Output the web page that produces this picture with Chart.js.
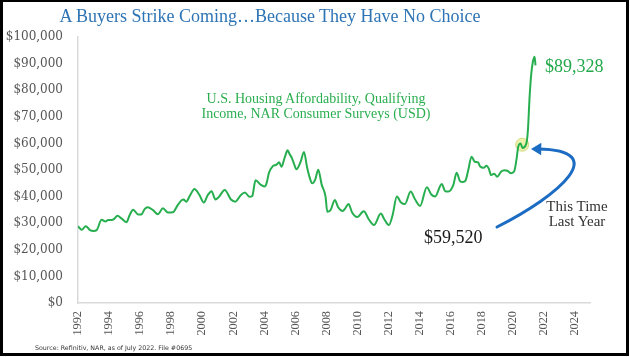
<!DOCTYPE html>
<html>
<head>
<meta charset="utf-8">
<script src="https://cdn.jsdelivr.net/npm/chart.js@4/dist/chart.umd.min.js"></script>
<style>
  html, body { margin: 0; padding: 0; background: #fff; }
  #wrap { position: relative; width: 630px; height: 357px; overflow: hidden; background: #fff; }
  #c { position: absolute; left: 0; top: 0; }
  .t { position: absolute; white-space: nowrap; }
  #frame { position: absolute; left: 0; top: -1px; width: 629px; height: 357px; border: 3px solid #000; box-sizing: border-box; pointer-events: none; }
</style>
</head>
<body>
<div id="wrap">
  <canvas id="c" width="630" height="357"></canvas>
  <div class="t" style="left:0;top:5.6px;width:540px;text-align:center;font:18px/20px 'Liberation Serif';color:#2E74B5;">A Buyers Strike Coming…Because They Have No Choice</div>
  <div class="t" style="left:166px;top:90.5px;width:300px;text-align:center;font:14px/15px 'Liberation Serif';color:#2BAE50;">U.S. Housing Affordability, Qualifying<br>Income, NAR Consumer Surveys (USD)</div>
  <div class="t" style="left:545px;top:55.6px;font:18px/20px 'Liberation Serif';color:#22A94B;">$89,328</div>
  <div class="t" style="left:527px;top:199.4px;width:100px;text-align:center;font:15px/14.5px 'Liberation Serif';color:#333;">This Time<br>Last Year</div>
  <div class="t" style="left:424px;top:227.2px;font:18px/20px 'Liberation Serif';color:#1a1a1a;">$59,520</div>
  <div class="t" style="left:35px;top:343.8px;font:6.3px/8px 'DejaVu Sans';color:#333;">Source: Refinitiv, NAR, as of July 2022. File #0695</div>
  <div id="frame"></div>
</div>
<script>
// ---- data ----
const years = [1992.00,1992.24,1992.50,1992.77,1993.00,1993.20,1993.52,1993.77,1993.94,1994.16,
  1994.33,1994.54,1994.80,1995.12,1995.33,1995.55,1995.87,1996.08,1996.29,1996.48,
  1996.83,1997.15,1997.47,1997.79,1998.11,1998.43,1998.69,1998.80,1998.97,1999.20,
  1999.50,1999.82,2000.10,2000.35,2000.60,2000.85,2001.06,2001.45,2001.85,2002.13,
  2002.49,2002.75,2003.05,2003.22,2003.43,2003.78,2004.00,2004.14,2004.30,2004.52,
  2004.78,2004.95,2005.10,2005.30,2005.50,2005.62,2005.75,2005.90,2006.06,2006.34,
  2006.55,2006.75,2006.90,2007.08,2007.28,2007.47,2007.69,2007.94,2008.05,2008.25,
  2008.54,2008.75,2009.05,2009.20,2009.42,2009.65,2009.98,2010.40,2010.75,2011.06,
  2011.50,2011.72,2012.02,2012.26,2012.53,2012.80,2013.05,2013.42,2013.70,2014.03,
  2014.46,2014.75,2014.99,2015.42,2015.65,2015.85,2016.17,2016.38,2016.60,2016.78,
  2016.95,2017.13,2017.34,2017.55,2017.75,2017.90,2018.12,2018.30,2018.45,2018.60,
  2018.80,2018.99,2019.25,2019.45,2019.65,2019.89,2020.08,2020.23,2020.35,2020.50,
  2020.62,2020.87,2020.97,2021.08,2021.19,2021.29,2021.40,2021.46];
const income = [28900,27500,28900,27400,27100,27400,31300,30600,31200,31200,
  31600,32800,31800,30400,33100,35100,33300,33300,35300,36000,
  34900,33400,35600,34000,34100,36900,38700,38900,38100,40300,
  42900,40600,37800,40500,42000,38900,39800,42500,38900,38100,
  40600,41500,39900,40200,46100,44400,43800,45000,49000,51300,
  52000,52900,51200,54500,57400,56000,54800,52500,50300,53200,
  56800,51000,47500,45000,46500,50100,44500,40000,34300,34800,
  38700,36000,34600,35500,37200,34000,32300,34500,31200,29300,
  33600,31500,29300,33100,40000,37800,37200,41900,39000,36500,
  43500,40800,40000,44700,42000,41900,44400,49000,45800,45500,
  46000,50000,55000,53100,52900,51300,50800,51600,50500,48100,
  48600,47500,49400,49900,49700,48800,49400,53800,58800,60000,
  58300,60000,65000,77600,86400,90700,92600,89300];
const markerYear = [2020.6];
const markerValue = [59520];
const xTickYears = [1992,1994,1996,1998,2000,2002,2004,2006,2008,2010,2012,2014,2016,2018,2020,2022,2024];
const yTickValues = [0,10000,20000,30000,40000,50000,60000,70000,80000,90000,100000];
// annotation arrow (data space): start, control1, control2, end
const arrowPts = [[2018.98,28570],[2023.04,40600],[2026.35,57500],[2021.62,57900]];

const lineData = years.map((x, i) => ({ x, y: income[i] }));
const markerData = markerYear.map((x, i) => ({ x, y: markerValue[i] }));

const arrowPlugin = {
  id: 'arrow',
  afterDraw(chart) {
    const { ctx, scales: { x, y } } = chart;
    const p = arrowPts.map(([a, b]) => [x.getPixelForValue(a), y.getPixelForValue(b)]);
    ctx.save();
    ctx.strokeStyle = '#1B6CC2';
    ctx.fillStyle = '#1B6CC2';
    ctx.lineWidth = 3;
    ctx.lineCap = 'round';
    ctx.beginPath();
    ctx.moveTo(p[0][0], p[0][1]);
    ctx.bezierCurveTo(p[1][0], p[1][1], p[2][0], p[2][1], p[3][0], p[3][1]);
    ctx.stroke();
    const ang = Math.atan2(p[3][1] - p[2][1], p[3][0] - p[2][0]);
    const tipX = p[3][0] + Math.cos(ang) * 7, tipY = p[3][1] + Math.sin(ang) * 7;
    ctx.beginPath();
    ctx.moveTo(tipX, tipY);
    ctx.lineTo(tipX - Math.cos(ang - 0.55) * 12, tipY - Math.sin(ang - 0.55) * 12);
    ctx.lineTo(tipX - Math.cos(ang + 0.55) * 12, tipY - Math.sin(ang + 0.55) * 12);
    ctx.closePath();
    ctx.fill();
    ctx.restore();
  }
};

new Chart(document.getElementById('c'), {
  type: 'line',
  data: {
    datasets: [
      {
        data: lineData,
        borderColor: '#27AE4F',
        borderWidth: 2,
        pointRadius: 0,
        cubicInterpolationMode: 'monotone',
        fill: false
      },
      {
        data: markerData,
        showLine: false,
        pointRadius: 6.5,
        pointBackgroundColor: 'rgba(232,238,150,0.8)',
        pointBorderColor: 'rgba(205,215,120,0.9)',
        pointBorderWidth: 1
      }
    ]
  },
  options: {
    responsive: false,
    animation: false,
    events: [],
    layout: { padding: { left: 0, top: 37, right: 39.5, bottom: 0 } },
    plugins: { legend: { display: false }, tooltip: { enabled: false }, title: { display: false } },
    scales: {
      x: {
        type: 'linear',
        min: 1992,
        max: 2025,
        grid: { display: false },
        border: { display: true, color: '#DADADA', width: 1.5 },
        afterBuildTicks: s => { s.ticks = xTickYears.map(v => ({ value: v })); },
        afterFit: s => { s.height = 54; },
        ticks: {
          autoSkip: false,
          maxRotation: 90,
          minRotation: 90,
          padding: 0,
          color: '#555',
          font: { family: 'Liberation Serif', size: 12.3 },
          callback: v => String(v)
        }
      },
      y: {
        min: 0,
        max: 100000,
        grid: { display: false },
        border: { display: true, color: '#DADADA', width: 1.5 },
        afterBuildTicks: s => { s.ticks = yTickValues.map(v => ({ value: v })); },
        afterFit: s => { s.width = 78; },
        ticks: {
          padding: 7,
          color: '#555',
          font: { family: 'DejaVu Serif', size: 12 },
          callback: v => '$' + Number(v).toLocaleString('en-US')
        }
      }
    }
  },
  plugins: [arrowPlugin]
});
</script>
</body>
</html>
